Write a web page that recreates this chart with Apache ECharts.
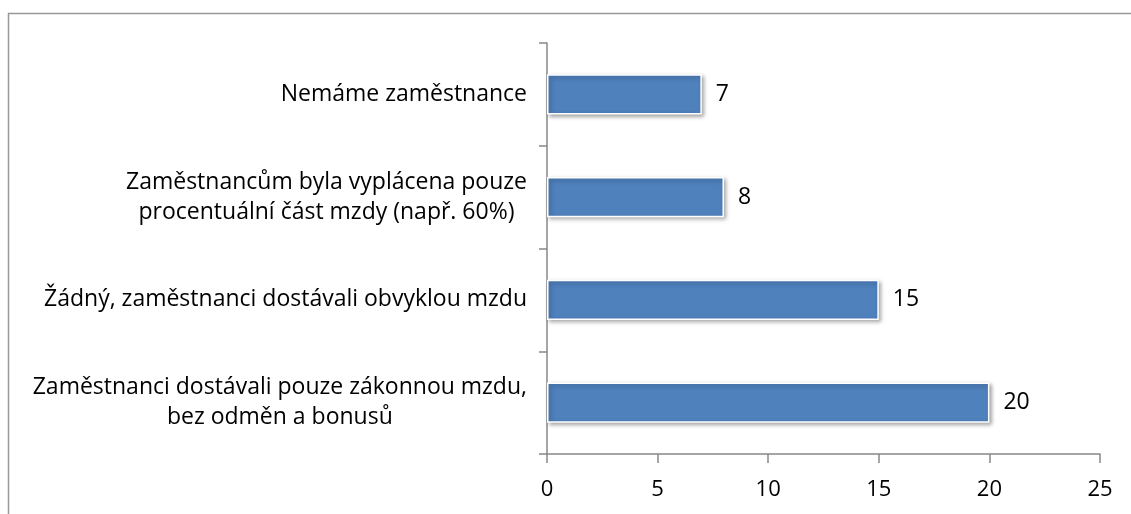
<!DOCTYPE html>
<html>
<head>
<meta charset="utf-8">
<script src="https://cdn.jsdelivr.net/npm/echarts@6/dist/echarts.min.js"></script>
<style>
    html, body { margin: 0; padding: 0; background: #fff; }
    #content { width: 1131px; height: 514px; }
</style>
</head>
<body>
<div id="content"></div>
<script>
!(function(window) {
    var categories = [
        'Nemáme zaměstnance',
        'Zaměstnancům byla vyplácena pouze\nprocentuální část mzdy (např. 60%)',
        'Žádný, zaměstnanci dostávali obvyklou mzdu',
        'Zaměstnanci dostávali pouze zákonnou mzdu,\nbez odměn a bonusů'
    ];
    var values = [7, 8, 15, 20];
    var xTicks = [0, 5, 10, 15, 20, 25];

    var font = '"Open Sans", Lato, sans-serif';
    var myChart = echarts.init(document.getElementById('content'));

    var option = {
        animation: false,
        // frame of the chart area (only top/left edges visible)
        graphic: [{
            type: 'rect',
            shape: { x: 8.5, y: 13.5, width: 2000, height: 2000 },
            style: { fill: 'none', stroke: '#999', lineWidth: 1.5 },
            silent: true
        }],
        grid: {
            left: 547,
            right: 31,
            top: 43,
            bottom: 60
        },
        xAxis: {
            type: 'value',
            min: xTicks[0],
            max: xTicks[xTicks.length - 1],
            interval: 5,
            splitLine: { show: false },
            axisLine: { show: true, lineStyle: { color: '#888', width: 1.5 } },
            axisTick: { show: true, length: 9, lineStyle: { color: '#888', width: 1.5 } },
            axisLabel: {
                margin: 25,
                color: '#000',
                fontFamily: font,
                fontSize: 22
            }
        },
        yAxis: {
            type: 'category',
            inverse: true,
            data: categories,
            axisLine: { show: true, lineStyle: { color: '#888', width: 1.5 } },
            axisTick: { show: true, length: 8, lineStyle: { color: '#888', width: 1.5 } },
            axisLabel: {
                margin: 20,
                color: '#000',
                fontFamily: font,
                fontSize: 23,
                lineHeight: 30,
                formatter: function(value) {
                    return value.split('\n').map(function(line) {
                        return '{c|' + line + '}';
                    }).join('\n');
                },
                rich: {
                    c: {
                        align: 'center',
                        color: '#000',
                        fontFamily: font,
                        fontSize: 23,
                        lineHeight: 30
                    }
                }
            }
        },
        series: [{
            type: 'bar',
            data: values,
            barWidth: '39%',
            itemStyle: {
                color: '#4F81BD',
                borderColor: '#fff',
                borderWidth: 1.5,
                shadowColor: 'rgba(0,0,0,0.35)',
                shadowBlur: 4,
                shadowOffsetX: 2,
                shadowOffsetY: 2
            },
            label: {
                show: true,
                position: 'right',
                distance: 14,
                color: '#000',
                fontFamily: font,
                fontSize: 23
            }
        }]
    };
    myChart.setOption(option);
})(window);
</script>
</body>
</html>
